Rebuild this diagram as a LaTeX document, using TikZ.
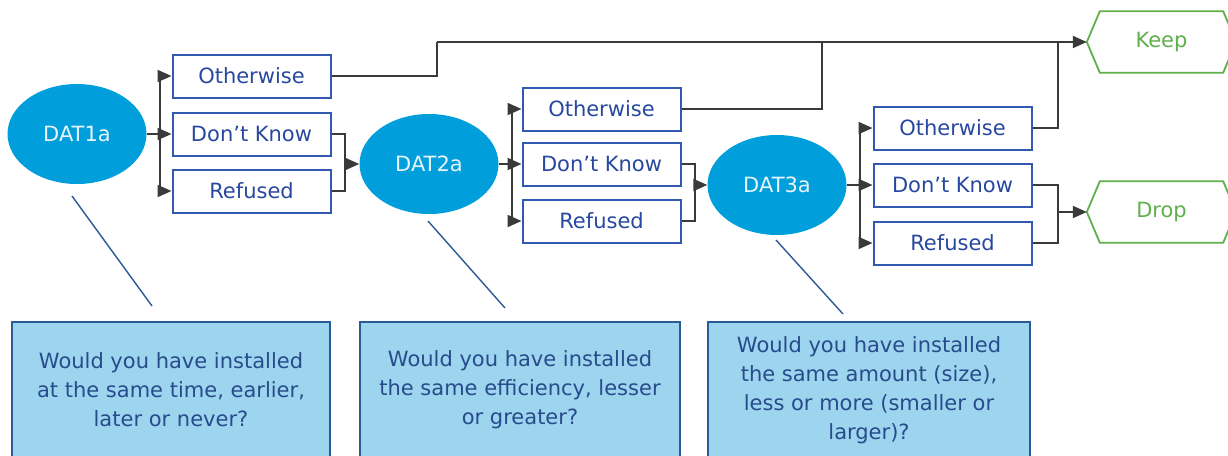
\documentclass[tikz,border=0pt]{standalone}
\usepackage{fontspec}
\setmainfont{DejaVu Sans}
\usepackage{tikz}
\usetikzlibrary{positioning}
\usetikzlibrary{shapes.geometric}
\usetikzlibrary{arrows.meta}

\definecolor{qblue}{RGB}{0,158,219}
\definecolor{qtext}{RGB}{232,245,251}
\definecolor{optline}{RGB}{50,88,175}
\definecolor{opttext}{RGB}{40,72,160}
\definecolor{wire}{RGB}{58,58,58}
\definecolor{endgreen}{RGB}{95,175,75}
\definecolor{notefill}{RGB}{157,212,238}
\definecolor{noteline}{RGB}{45,90,150}
\definecolor{notetext}{RGB}{40,75,140}

\begin{document}
\begin{tikzpicture}[
    x=1pt, y=-1pt,
    font=\fontsize{21}{29}\selectfont,
    question/.style={
      ellipse,
      fill=qblue,
      text=qtext,
      minimum width=139pt,
      minimum height=100pt,
      inner sep=0pt
    },
    answer/.style={
      draw=optline,
      text=opttext,
      line width=2pt,
      minimum width=158pt,
      minimum height=43pt,
      inner sep=0pt,
      rectangle
    },
    outcome/.style={
      text=endgreen,
      minimum width=149pt,
      minimum height=61pt,
      inner sep=0pt
    },
    hexline/.style={draw=endgreen, line width=1.8pt},
    note/.style={
      draw=noteline,
      fill=notefill,
      text=notetext,
      line width=1.6pt,
      minimum height=136pt,
      inner sep=0pt,
      align=center
    },
    link/.style={draw=wire, line width=1.9pt},
    arr/.style={link, -{Triangle[length=14pt,width=12pt]}},
    pin/.style={draw=noteline, line width=1.4pt}
  ]

  \clip (0,0) rectangle (1228,455);

  % questions
  \node[question] (d1) at (77,134) {DAT1a};
  \node[question] (d2) at (429,164) {DAT2a};
  \node[question] (d3) at (777,185) {DAT3a};

  % answers
  \node[answer] (o1) at (251.5,76) {Otherwise};
  \node[answer] (k1) at (251.5,134) {Don’t Know};
  \node[answer] (r1) at (251.5,191) {Refused};

  \node[answer] (o2) at (601.5,109) {Otherwise};
  \node[answer] (k2) at (601.5,164) {Don’t Know};
  \node[answer] (r2) at (601.5,221) {Refused};

  \node[answer] (o3) at (952.5,128) {Otherwise};
  \node[answer] (k3) at (952.5,185) {Don’t Know};
  \node[answer] (r3) at (952.5,243) {Refused};

  % outcomes
  \node[outcome] (keep) at (1161.5,42) {Keep};
  \node[outcome] (drop) at (1161.5,212) {Drop};
  \foreach \n in {keep,drop}
    \draw[hexline] (\n.west) -- ([xshift=13pt]\n.north west) -- ([xshift=-13pt]\n.north east)
      -- (\n.east) -- ([xshift=-13pt]\n.south east) -- ([xshift=13pt]\n.south west) -- cycle;

  % branch points
  \coordinate (s1) at (160,134);
  \coordinate (s2) at (512,164);
  \coordinate (s3) at (860,185);
  \coordinate (j1) at (345,164);
  \coordinate (j2) at (695,185);
  \coordinate (j3) at (1058,212);
  \coordinate (t1) at (437,42);
  \coordinate (t2) at (822,42);
  \coordinate (t3) at (1058,42);

  \foreach \i in {1,2,3} {
    \draw[arr] (d\i) -- (k\i);
    \draw[arr] (s\i) |- (o\i.west);
    \draw[arr] (s\i) |- (r\i.west);
    \draw[link] (k\i.east) -| (j\i);
    \draw[link] (r\i.east) -| (j\i);
    \draw[link] (o\i.east) -| (t\i);
  }
  \draw[arr] (j1) -- (d2);
  \draw[arr] (j2) -- (d3);
  \draw[arr] (j3) -- (drop.west);
  \draw[arr] (t1) -- (keep.west);

  % explanations
  \node[note, minimum width=318pt] (q1) at (171,390)
    {Would you have installed\\at the same time, earlier,\\later or never?};
  \node[note, minimum width=320pt] (q2) at (520,390)
    {Would you have installed\\the same efficiency, lesser\\or greater?};
  \node[note, minimum width=322pt] (q3) at (869,390)
    {Would you have installed\\the same amount (size),\\less or more (smaller or\\larger)?};

  \coordinate (p1a) at (72,196);  \coordinate (p1b) at (152,306);
  \coordinate (p2a) at (428,221); \coordinate (p2b) at (505,308);
  \coordinate (p3a) at (776,240); \coordinate (p3b) at (843,314);
  \draw[pin] (p1a) -- (p1b);
  \draw[pin] (p2a) -- (p2b);
  \draw[pin] (p3a) -- (p3b);

\end{tikzpicture}
\end{document}
